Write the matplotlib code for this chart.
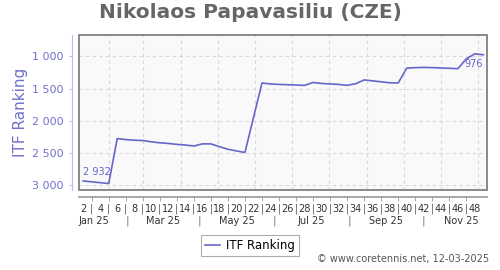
import numpy as np
import matplotlib
matplotlib.use("Agg")
import matplotlib.pyplot as plt
from matplotlib.patches import Rectangle
from matplotlib.ticker import FuncFormatter
import matplotlib.transforms as mtransforms

##################################DATA
weeks = np.arange(2, 50)
ranking = np.array([2932, 2945, 2958, 2971, 2274, 2290, 2300, 2305, 2325, 2340,
                    2350, 2365, 2375, 2390, 2357, 2357, 2400, 2440, 2466, 2490,
                    1950, 1413, 1428, 1435, 1440, 1445, 1450, 1405, 1420, 1428,
                    1435, 1449, 1425, 1366, 1380, 1395, 1410, 1413, 1183, 1175,
                    1172, 1175, 1180, 1185, 1192, 1040, 960, 976])
month_labels = ["Jan 25", "Mar 25", "May 25", "Jul 25", "Sep 25", "Nov 25"]
month_label_pos = [3.3, 11.4, 20.1, 28.8, 37.6, 46.4]
month_sep_pos = [7.2, 15.6, 24.5, 33.3, 42.0]
month_days = [31, 28, 31, 30, 31, 30, 31, 31, 30, 31, 30]
##################################DATA

blue = "#6666cc"
grey = "#666666"

fig = plt.figure(figsize=(5, 2.7), dpi=100)
ax = fig.add_axes([0.157, 0.296, 0.817, 0.573])
ax.set_facecolor("#f9f9f9")

ax.plot(weeks, ranking, color=blue, lw=1.2, zorder=3)
ax.set_xlim(1.45, 49.43)
ax.set_ylim(3073, 675)

# grid: month starts (day of year / 7) and y ticks
month_starts = (np.cumsum(month_days) + 1) / 7 + 0.5
for m in month_starts:
    ax.axvline(m, color="#d8d8d8", lw=0.8, ls=(0, (3, 3)), zorder=1)
ax.set_yticks([1000, 1500, 2000, 2500, 3000])
ax.yaxis.set_major_formatter(FuncFormatter(lambda v, p: f"{int(v):,}".replace(",", " ")))
ax.grid(axis="y", color="#d8d8d8", lw=0.8, ls=(0, (3, 3)), zorder=1)

# frame + offset axes
ax.add_patch(Rectangle((0, 0), 1, 1, transform=ax.transAxes, fill=False,
                       edgecolor="#808080", lw=1.3, clip_on=False, zorder=4))
for s in ["top", "right"]:
    ax.spines[s].set_visible(False)
ax.spines["left"].set_position(("outward", 5))
ax.spines["left"].set_color("#bbbbee")
ax.spines["bottom"].set_position(("outward", 5))
ax.spines["bottom"].set_color("#999999")
ax.spines["bottom"].set_linewidth(1.2)

ax.tick_params(axis="y", colors="#bbbbee", labelcolor="#7070cc", labelsize=8, length=2)
ax.set_ylabel("ITF Ranking", color="#7070cc", fontsize=11, labelpad=3)

ax.set_xticks(weeks[::2])
ax.set_xticklabels([str(w) for w in weeks[::2]])
ax.set_xticks(weeks[1:-1:2], minor=True)
ax.set_xticklabels(["|"] * len(weeks[1:-1:2]), minor=True)
ax.tick_params(axis="x", which="major", length=0, pad=5, labelsize=7, labelcolor="#333333")
ax.tick_params(axis="x", which="minor", length=3, pad=2, labelsize=7, color="#999999",
               labelcolor="#555555")

trans = mtransforms.blended_transform_factory(ax.transData, ax.transAxes)
for pos, lab in zip(month_label_pos, month_labels):
    ax.text(pos, -0.2, lab, transform=trans, ha="center", va="center",
            fontsize=7, color="#333333")
for pos in month_sep_pos:
    ax.text(pos, -0.2, "|", transform=trans, ha="center", va="center",
            fontsize=8, color="#777777")

# first / last labels
ax.annotate(f"{ranking[0]:,}".replace(",", " "), (weeks[0], ranking[0]),
            xytext=(0, 3), textcoords="offset points", ha="left", va="bottom",
            fontsize=7, color=blue)
ax.annotate(f"{ranking[-1]}", (weeks[-1], ranking[-1]),
            xytext=(0, -3), textcoords="offset points", ha="right", va="top",
            fontsize=7, color=blue)

fig.suptitle("Nikolaos Papavasiliu (CZE)", x=0.5, y=0.99, fontsize=14.5,
             fontweight="bold", color=grey)

leg = fig.legend(["ITF Ranking"], loc="center", bbox_to_anchor=(0.5, 0.09),
                 fontsize=8.5, frameon=True, fancybox=False, handlelength=1.3,
                 handletextpad=0.5, borderpad=0.35)
leg.get_frame().set_edgecolor("#999999")
leg.get_frame().set_linewidth(0.8)

fig.text(0.978, 0.022, "© www.coretennis.net, 12-03-2025", ha="right", va="bottom",
         fontsize=7, color="#555555")

fig.savefig("out.png", dpi=100)
